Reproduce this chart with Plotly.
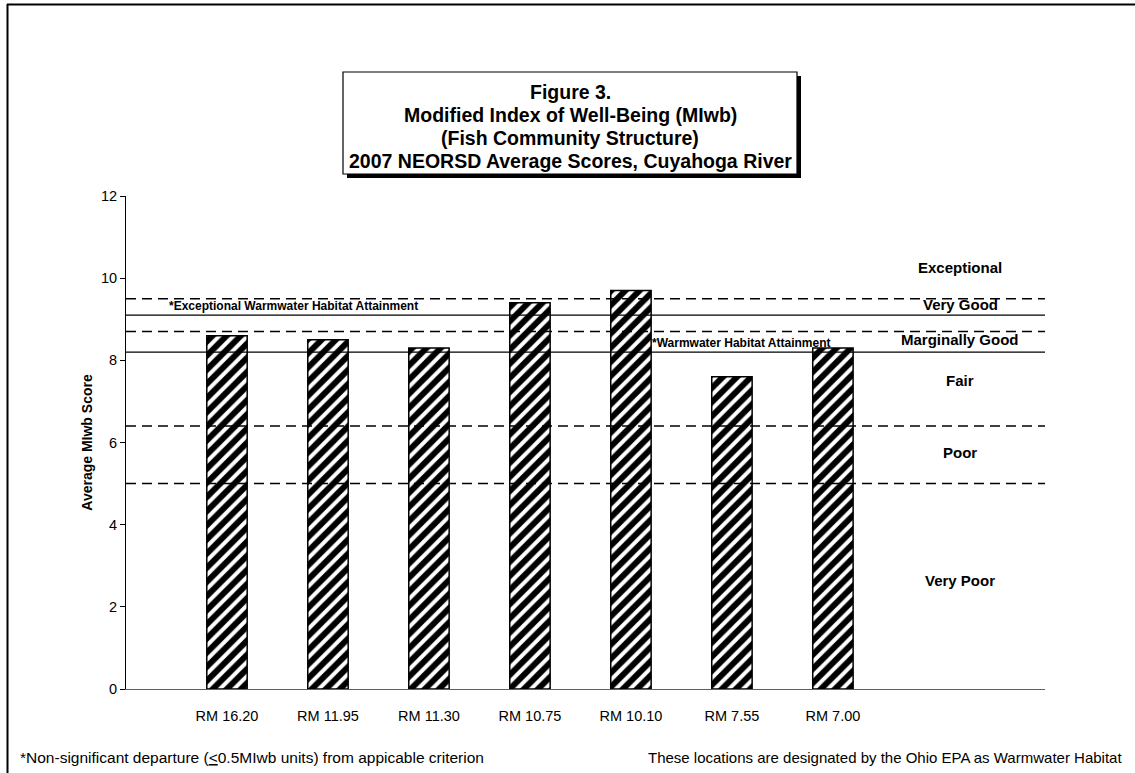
import plotly.graph_objects as go

# river mile sites and average MIwb scores
sites = ["RM 16.20", "RM 11.95", "RM 11.30", "RM 10.75", "RM 10.10", "RM 7.55", "RM 7.00"]
scores = [8.6, 8.5, 8.3, 9.4, 9.7, 7.6, 8.3]
site_pos = [1, 2, 3, 4, 5, 6, 7]

# narrative range boundaries (dashed) and attainment criteria (solid)
range_lines = [9.5, 8.7, 6.4, 5.0]
criteria_lines = [9.1, 8.2]
criteria_labels = ["*Exceptional Warmwater Habitat Attainment", "*Warmwater Habitat Attainment"]

range_names = ["Exceptional", "Very Good", "Marginally Good", "Fair", "Poor", "Very Poor"]
range_label_y = [10.25, 9.35, 8.5, 7.5, 5.75, 2.65]

title_lines = [
    "Figure 3.",
    "Modified Index of Well-Being (MIwb)",
    "(Fish Community Structure)",
    "2007 NEORSD Average Scores, Cuyahoga River",
]

FONT = "Arial, Liberation Sans, sans-serif"
W, H = 1135, 773
L, R, T, B = 126, 1045, 196, 689
XMAX = 9.1


def px_x(p):
    return (p - L) / (R - L)


def px_y(p):
    return (B - p) / (B - T)


fig = go.Figure()
fig.add_trace(go.Bar(
    x=site_pos, y=scores, width=0.4,
    marker=dict(color="white", line=dict(color="black", width=1.5),
                pattern=dict(shape="/", fgcolor="black", bgcolor="white", fgopacity=1,
                             size=10, solidity=0.6)),
    showlegend=False,
))

shapes = []
for v in range_lines:
    shapes.append(dict(type="line", xref="x", yref="y", x0=0, x1=XMAX, y0=v, y1=v,
                       line=dict(color="black", width=1.5, dash="10px,6px")))
for v in criteria_lines:
    shapes.append(dict(type="line", xref="x", yref="y", x0=0, x1=XMAX, y0=v, y1=v,
                       line=dict(color="black", width=1.2)))

# page border (top and left)
shapes.append(dict(type="line", xref="paper", yref="paper", x0=px_x(7), x1=px_x(W + 5),
                   y0=px_y(4.5), y1=px_y(4.5), line=dict(color="black", width=2)))
shapes.append(dict(type="line", xref="paper", yref="paper", x0=px_x(7.5), x1=px_x(7.5),
                   y0=px_y(4), y1=px_y(H + 5), line=dict(color="black", width=2)))

# title box with drop shadow
shapes.append(dict(type="rect", xref="paper", yref="paper", x0=px_x(347), x1=px_x(801),
                   y0=px_y(76), y1=px_y(178), fillcolor="black", line=dict(width=0)))
shapes.append(dict(type="rect", xref="paper", yref="paper", x0=px_x(343), x1=px_x(797),
                   y0=px_y(72), y1=px_y(174), fillcolor="white", line=dict(color="black", width=1.2)))

annotations = []
for i, txt in enumerate(title_lines):
    annotations.append(dict(text="<b>%s</b>" % txt, xref="paper", yref="paper",
                            x=px_x(570), y=px_y(92 + 23 * i), xanchor="center", yanchor="middle",
                            showarrow=False, font=dict(family=FONT, size=19.5, color="black")))

annotations.append(dict(text="<b>%s</b>" % criteria_labels[0], xref="paper", yref="y",
                        x=px_x(167), y=criteria_lines[0], xanchor="left", yanchor="bottom",
                        showarrow=False, font=dict(family=FONT, size=12, color="black")))
annotations.append(dict(text="<b>%s</b>" % criteria_labels[1], xref="paper", yref="y",
                        x=px_x(650), y=criteria_lines[1], xanchor="left", yanchor="bottom",
                        showarrow=False, font=dict(family=FONT, size=12, color="black")))

for name, yv in zip(range_names, range_label_y):
    annotations.append(dict(text="<b>%s</b>" % name, xref="paper", yref="y",
                            x=px_x(960), y=yv, xanchor="center", yanchor="middle", showarrow=False,
                            font=dict(family=FONT, size=15, color="black")))

annotations.append(dict(text="*Non-significant departure (<u>&lt;</u>0.5MIwb units) from appicable criterion",
                        xref="paper", yref="paper", x=px_x(18), y=px_y(757), xanchor="left",
                        yanchor="middle", showarrow=False,
                        font=dict(family=FONT, size=15.5, color="black")))
annotations.append(dict(text="These locations are designated by the Ohio EPA as Warmwater Habitat",
                        xref="paper", yref="paper", x=px_x(1124), y=px_y(757), xanchor="right",
                        yanchor="middle", showarrow=False,
                        font=dict(family=FONT, size=15, color="black")))

fig.update_layout(
    width=W, height=H,
    margin=dict(l=L, r=W - R, t=T, b=H - B),
    paper_bgcolor="white", plot_bgcolor="white",
    font=dict(family=FONT, size=14, color="black"),
    shapes=shapes, annotations=annotations,
    xaxis=dict(range=[0, XMAX], tickvals=site_pos, ticktext=sites, showgrid=False,
               zeroline=False, showline=True, linecolor="#606060", linewidth=1,
               ticks="", ticklabelstandoff=14, tickfont=dict(size=14.5)),
    yaxis=dict(range=[0, 12], dtick=2, showgrid=False, zeroline=False, showline=True,
               linecolor="black", linewidth=1, ticks="outside", ticklen=5, tickcolor="black",
               tickfont=dict(size=14.5),
               title=dict(text="<b>Average MIwb Score</b>", font=dict(size=14), standoff=5)),
)

# drop the default page margin so the figure sits at the window origin
fig.write_html("out.html", config={"displayModeBar": False},
               post_script="document.body.style.margin='0';")
